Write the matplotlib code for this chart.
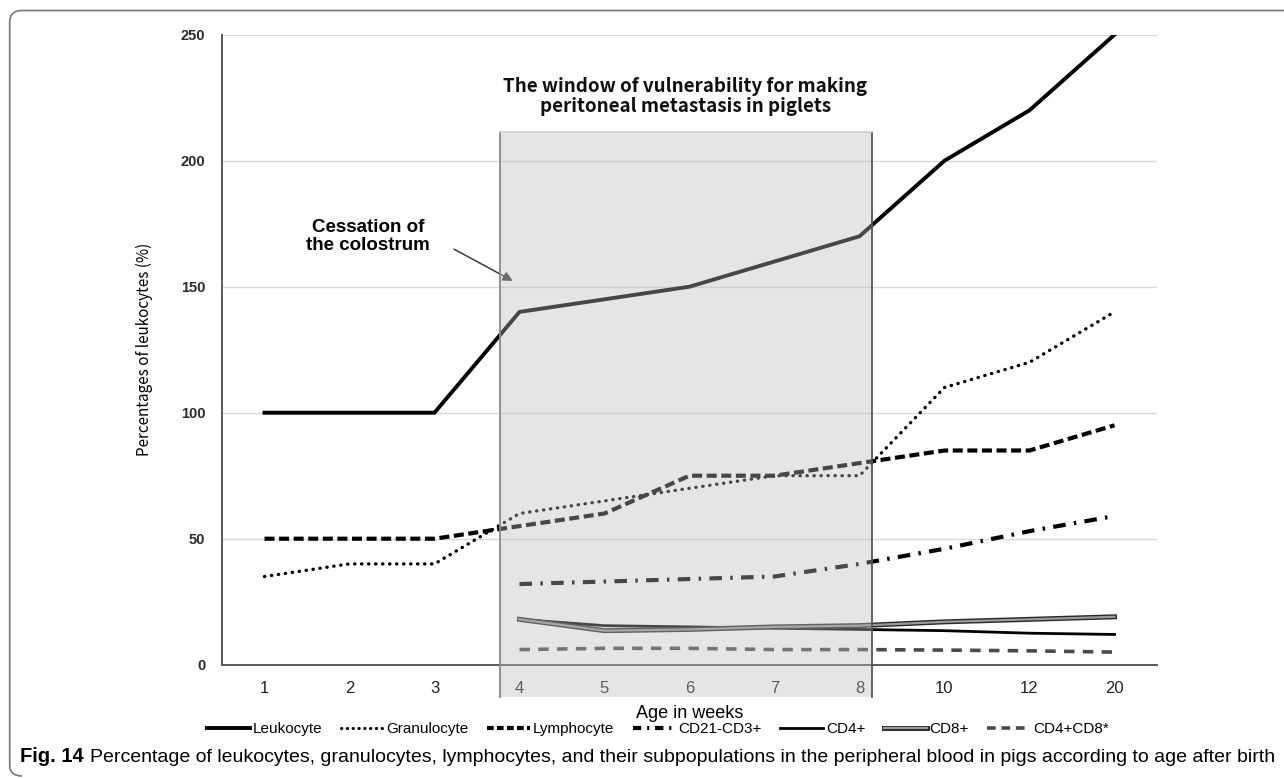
import numpy as np
import matplotlib
matplotlib.use("Agg")
import matplotlib.pyplot as plt
import matplotlib.patheffects as pe
from matplotlib.patches import Rectangle, PathPatch
from matplotlib.path import Path

# ── data ─────────────────────────────────────────────────────────────────────
weeks = ["1", "2", "3", "4", "5", "6", "7", "8", "10", "12", "20"]
leukocyte = [100, 100, 100, 140, 145, 150, 160, 170, 200, 220, 250]
granulocyte = [35, 40, 40, 60, 65, 70, 75, 75, 110, 120, 140]
lymphocyte = [50, 50, 50, 55, 60, 75, 75, 80, 85, 85, 95]
# subpopulations measured from week 4 onward
sub_weeks = ["4", "5", "6", "7", "8", "10", "12", "20"]
cd21_cd3 = [32, 33, 34, 35, 40, 46, 53, 59]
cd4 = [18, 15.5, 15, 14.5, 14, 13.5, 12.5, 12]
cd8 = [18, 13.5, 14, 15, 15.5, 17, 18, 19]
cd4_cd8 = [6, 6.5, 6.5, 6, 6, 5.8, 5.5, 5]
window_weeks = ("4", "8")

GOTHIC = ["Noto Sans CJK KR", "DejaVu Sans"]
ARIAL = ["Liberation Sans", "DejaVu Sans"]

W, H = 1284, 778
fig = plt.figure(figsize=(W / 100, H / 100), dpi=100)
ax = fig.add_axes([222 / W, 1 - 664.7 / H, (1157 - 222) / W, (664.7 - 34.7) / H])

x = np.arange(len(weeks))
xs = np.array([weeks.index(w) for w in sub_weeks])

ax.plot(x, leukocyte, color="black", lw=2.8, solid_joinstyle="miter")
ax.plot(x, granulocyte, color="black", lw=2.4, linestyle=(0, (0.1, 2.0)),
        dash_capstyle="round")
ax.plot(x, lymphocyte, color="black", lw=3.0, linestyle=(0, (2.4, 1.1)))
ax.plot(xs, cd21_cd3, color="black", lw=3.0, linestyle=(0, (3.0, 2.0, 0.6, 2.0)))
ax.plot(xs, cd4, color="black", lw=2.0)
ax.plot(xs, cd8, color="#9a9a9a", lw=1.6,
        path_effects=[pe.Stroke(linewidth=3.6, foreground="#2a2a2a"), pe.Normal()])
ax.plot(xs, cd4_cd8, color="#4a4a4a", lw=2.6, linestyle=(0, (2.9, 2.3)))

# window of vulnerability box (semi-transparent, drawn over the lines)
x0 = weeks.index(window_weeks[0]) - 0.23
x1 = weeks.index(window_weeks[1]) + 0.15
box = Rectangle((x0, -12.8), x1 - x0, 211.5 + 12.8, facecolor="#bcbcbc",
                alpha=0.38, edgecolor="none", zorder=3, clip_on=False)
ax.add_patch(box)
for xe, c in [(x0, "#8a8a8a"), (x1, "#555555")]:
    ax.plot([xe, xe], [-12.8, 211.5], color=c, lw=1.3, zorder=3.1, clip_on=False)
ax.plot([x0, x1], [211.5, 211.5], color="#cfcfcf", lw=1.2, zorder=3.1, clip_on=False)

ax.text(4.95, 225.6, "The window of vulnerability for making\nperitoneal metastasis in piglets",
        ha="center", va="center", fontsize=13.5, fontweight="bold", family=GOTHIC,
        linespacing=1.05, color="#111111")

ax.annotate("", xy=(2.92, 152.3), xytext=(2.23, 164.9),
            arrowprops=dict(arrowstyle="-|>", color="#3a3a3a", lw=1.1,
                            mutation_scale=14, shrinkA=0, shrinkB=0), zorder=2.5)
ax.text(1.22, 170, "Cessation of\nthe colostrum", ha="center", va="center",
        fontsize=13.5, fontweight="bold", family=ARIAL, linespacing=1.1)

# axes styling
ax.set_xlim(-0.5, len(weeks) - 0.5)
ax.set_ylim(0, 250)
ax.set_xticks(x)
ax.set_xticklabels(weeks, family=ARIAL, fontsize=12, color="#222222")
ax.set_yticks(np.arange(0, 251, 50))
ax.set_yticklabels([str(v) for v in range(0, 251, 50)], family=ARIAL,
                   fontsize=10.5, fontweight="bold", color="#2a2a2a")
ax.tick_params(axis="both", length=0)
ax.tick_params(axis="x", pad=12)
ax.tick_params(axis="y", pad=12)
ax.grid(axis="y", color="#d9d9d9", lw=1.0)
for s in ["top", "right"]:
    ax.spines[s].set_visible(False)
for s in ["left", "bottom"]:
    ax.spines[s].set_color("#595959")
    ax.spines[s].set_linewidth(1.4)

ax.set_xlabel("Age in weeks", family=ARIAL, fontsize=13, labelpad=6)
ax.set_ylabel("Percentages of leukocytes (%)", family=GOTHIC, fontsize=11,
              fontweight="medium", labelpad=20)

# legend
handles = [
    plt.Line2D([], [], color="black", lw=2.8),
    plt.Line2D([], [], color="black", lw=2.2, linestyle=(0, (0.1, 1.8)), dash_capstyle="round"),
    plt.Line2D([], [], color="black", lw=3.0, linestyle=(0, (1.6, 0.8))),
    plt.Line2D([], [], color="black", lw=3.0, linestyle=(0, (2.0, 1.4, 0.5, 1.4))),
    plt.Line2D([], [], color="black", lw=2.0),
    plt.Line2D([], [], color="#9a9a9a", lw=1.6,
               path_effects=[pe.Stroke(linewidth=3.6, foreground="#2a2a2a"), pe.Normal()]),
    plt.Line2D([], [], color="#4a4a4a", lw=2.6, linestyle=(0, (2.4, 1.6))),
]
labels = ["Leukocyte", "Granulocyte", "Lymphocyte", "CD21-CD3+", "CD4+", "CD8+", "CD4+CD8*"]
fig.legend(handles, labels, loc="center", bbox_to_anchor=(658 / W, 1 - 729 / H),
           ncol=7, frameon=False, handlelength=2.8, handletextpad=0.2,
           columnspacing=1.2, prop={"family": ARIAL, "size": 11})

# caption
t1 = fig.text(20 / W, 1 - 757 / H, "Fig. 14", family=ARIAL, fontsize=14.5,
              fontweight="bold", va="center", ha="left")
fig.canvas.draw()
bb = t1.get_window_extent()
fig.text((bb.x1 + 6) / W, 1 - 757 / H, "Percentage of leukocytes, granulocytes, lymphocytes, "
         "and their subpopulations in the peripheral blood in pigs according to age after birth",
         family=ARIAL, fontsize=14, va="center", ha="left")

# rounded page frame (top and left edges)
def fp(px, py):
    return (px / W, 1 - py / H)

verts = [fp(W, 10.5), fp(22, 10.5), fp(9.7, 10.5), fp(9.7, 22), fp(9.7, 765),
         fp(9.7, 776), fp(22, 776)]
codes = [Path.MOVETO, Path.LINETO, Path.CURVE3, Path.CURVE3, Path.LINETO,
         Path.CURVE3, Path.CURVE3]
fig.add_artist(PathPatch(Path(verts, codes), transform=fig.transFigure,
                         facecolor="none", edgecolor="#777777", lw=1.2))

fig.savefig("out.png", dpi=100)
